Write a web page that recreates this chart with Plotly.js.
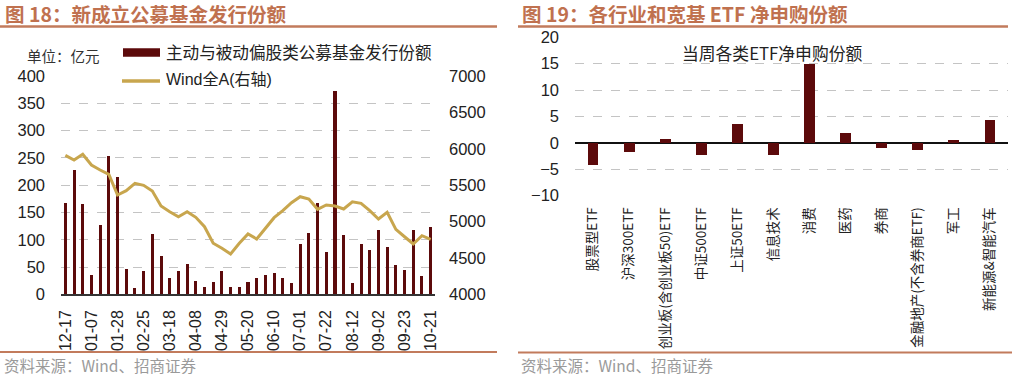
<!DOCTYPE html>
<html>
<head>
<meta charset="utf-8">
<script src="https://cdn.plot.ly/plotly-3.0.1.min.js"></script>
<style>html,body{margin:0;padding:0;background:#fff;}#chart{width:1017px;height:379px;}</style>
</head>
<body>
<div id="chart"></div>
<script>
// ---- Left chart data ----
var weeks = ["12-17","12-24","12-31","01-07","01-14","01-21","01-28","02-04","02-18","02-25",
  "03-04","03-11","03-18","03-25","04-01","04-08","04-15","04-22","04-29","05-06",
  "05-13","05-20","05-27","06-03","06-10","06-17","06-24","07-01","07-08","07-15",
  "07-22","07-29","08-05","08-12","08-19","08-26","09-02","09-09","09-16","09-23",
  "09-30","10-14","10-21"];
var fundIssue = [167,228,166,36,127,253,215,46,11,42,
  111,70,29,43,56,25,13,22,42,14,
  13,23,30,35,39,30,20,92,112,167,
  78,373,108,20,93,82,117,86,53,44,
  117,34,123];
var windA = [5910,5846,5924,5777,5708,5649,5364,5424,5525,5498,
  5419,5213,5135,5066,5135,5058,4929,4701,4632,4554,
  4701,4829,4760,4915,5053,5149,5259,5341,5310,5168,
  5227,5213,5172,5272,5250,5149,5035,5127,4893,4791,
  4691,4805,4756];
var weekTicks = ["12-17","01-07","01-28","02-25","03-18","04-08","04-29","05-20","06-10","07-01","07-22","08-12","09-02","09-23","10-21"];

// ---- Right chart data ----
var etfCats = ["股票型ETF","沪深300ETF","创业板(含创业板50)ETF","中证500ETF","上证50ETF","信息技术","消费","医药","券商","金融地产(不含券商ETF)","军工","新能源&智能汽车"];
var etfNet = [-4.2,-1.8,0.8,-2.4,3.5,-2.3,14.9,1.9,-0.9,-1.3,0.6,4.4];

var BAR = "#5c0a0b", GOLD = "#c8a64e", TITLE = "#c0714f";
var W = 1017, H = 379;
function px(x){return x/W;} function py(y){return 1-y/H;}

var traces = [
  {type:"bar", x:weeks, y:fundIssue, xaxis:"x", yaxis:"y", marker:{color:BAR}, width:0.35, showlegend:false, name:"主动与被动偏股类公募基金发行份额"},
  {type:"scatter", mode:"lines", x:weeks, y:windA, xaxis:"x", yaxis:"y2", line:{color:GOLD, width:3}, showlegend:false, name:"Wind全A(右轴)"},
  {type:"bar", x:etfCats, y:etfNet, xaxis:"x3", yaxis:"y3", marker:{color:BAR}, width:0.3, showlegend:false, name:"当周各类ETF净申购份额"}
];

var tickFont = {family:"Liberation Sans, Arial, sans-serif", size:16.5, color:"#222"};
var xTickFont = {family:"Liberation Sans, Arial, sans-serif", size:16, color:"#222"};
var cjk = "Noto Sans CJK SC, sans-serif";

var layout = {
  width:W, height:H, margin:{l:0,r:0,t:0,b:0}, paper_bgcolor:"#fff", plot_bgcolor:"rgba(0,0,0,0)",
  font:{family:"Liberation Sans, Arial, Noto Sans CJK SC, sans-serif"},
  bargap:0,
  xaxis:{domain:[px(61),px(435)], anchor:"y", type:"category", range:[-0.5,42.5], tickmode:"array", tickvals:weekTicks, ticktext:weekTicks,
    tickangle:-90, tickfont:xTickFont, showgrid:false, showline:true, linecolor:"#333", linewidth:1.5, ticks:"", ticklabelstandoff:8, fixedrange:true},
  yaxis:{domain:[py(294.3),py(76)], anchor:"x", range:[0,400], dtick:50, tickfont:tickFont, showgrid:true, gridcolor:"#c4c4c4", griddash:"dash", gridwidth:1,
    zeroline:false, showline:false, ticks:"", ticklabelstandoff:15},
  yaxis2:{overlaying:"y", anchor:"x", side:"right", range:[4000,7000], dtick:500, tickfont:tickFont, showgrid:false, zeroline:false, showline:false, ticks:"", ticklabelstandoff:13},
  xaxis3:{domain:[px(575),px(1008)], anchor:"y3", type:"category", tickangle:-90, tickfont:{family:cjk, size:13.5, color:"#222"}, showgrid:false, showline:false, ticks:"", ticklabelstandoff:8},
  yaxis3:{domain:[py(195.5),py(37.3)], anchor:"x3", range:[-10,20], dtick:5, tickfont:tickFont, showgrid:true, gridcolor:"#c4c4c4", griddash:"dash", gridwidth:1,
    zeroline:true, zerolinecolor:"#111", zerolinewidth:1.5, showline:false, ticks:"", ticklabelstandoff:15},
  shapes:[
    {type:"line", xref:"paper", yref:"paper", x0:0, x1:px(497), y0:py(26.5), y1:py(26.5), line:{color:"#c27b5c", width:2.5}},
    {type:"line", xref:"paper", yref:"paper", x0:px(518), x1:px(1008), y0:py(26.5), y1:py(26.5), line:{color:"#c27b5c", width:2.5}},
    {type:"line", xref:"paper", yref:"paper", x0:0, x1:px(497), y0:py(352), y1:py(352), line:{color:"#c27b5c", width:2}},
    {type:"line", xref:"paper", yref:"paper", x0:px(518), x1:px(1012), y0:py(352.5), y1:py(352.5), line:{color:"#c27b5c", width:2}},
    {type:"rect", xref:"paper", yref:"paper", x0:px(123), x1:px(160), y0:py(56.7), y1:py(48.3), fillcolor:BAR, line:{width:0}},
    {type:"line", xref:"paper", yref:"paper", x0:px(122), x1:px(160), y0:py(81), y1:py(81), line:{color:GOLD, width:3.5}}
  ],
  annotations:[
    {xref:"paper", yref:"paper", x:px(3), y:py(14), xanchor:"left", yanchor:"middle", showarrow:false, text:"<b>图 18：新成立公募基金发行份额</b>", font:{family:cjk, size:19.5, color:TITLE}},
    {xref:"paper", yref:"paper", x:px(520), y:py(14), xanchor:"left", yanchor:"middle", showarrow:false, text:"<b>图 19：各行业和宽基 ETF 净申购份额</b>", font:{family:cjk, size:19.5, color:TITLE}},
    {xref:"paper", yref:"paper", x:px(2), y:py(365), xanchor:"left", yanchor:"middle", showarrow:false, text:"资料来源：Wind、招商证券", font:{family:cjk, size:15.5, color:"#9a9a9a"}},
    {xref:"paper", yref:"paper", x:px(519), y:py(365), xanchor:"left", yanchor:"middle", showarrow:false, text:"资料来源：Wind、招商证券", font:{family:cjk, size:15.5, color:"#9a9a9a"}},
    {xref:"paper", yref:"paper", x:px(25), y:py(56), xanchor:"left", yanchor:"middle", showarrow:false, text:"单位：亿元", font:{family:cjk, size:14.5, color:"#333"}},
    {xref:"paper", yref:"paper", x:px(164), y:py(52), xanchor:"left", yanchor:"middle", showarrow:false, text:"主动与被动偏股类公募基金发行份额", font:{family:cjk, size:16.6, color:"#222"}},
    {xref:"paper", yref:"paper", x:px(164), y:py(80), xanchor:"left", yanchor:"middle", showarrow:false, text:"Wind全A(右轴)", font:{family:"Liberation Sans, Arial, Noto Sans CJK SC", size:16, color:"#222"}},
    {xref:"paper", yref:"paper", x:px(772), y:py(53), xanchor:"center", yanchor:"middle", showarrow:false, text:"当周各类ETF净申购份额", font:{family:cjk, size:16.8, color:"#222"}}
  ]
};

Plotly.newPlot("chart", traces, layout, {displayModeBar:false, staticPlot:true});
</script>
</body>
</html>
